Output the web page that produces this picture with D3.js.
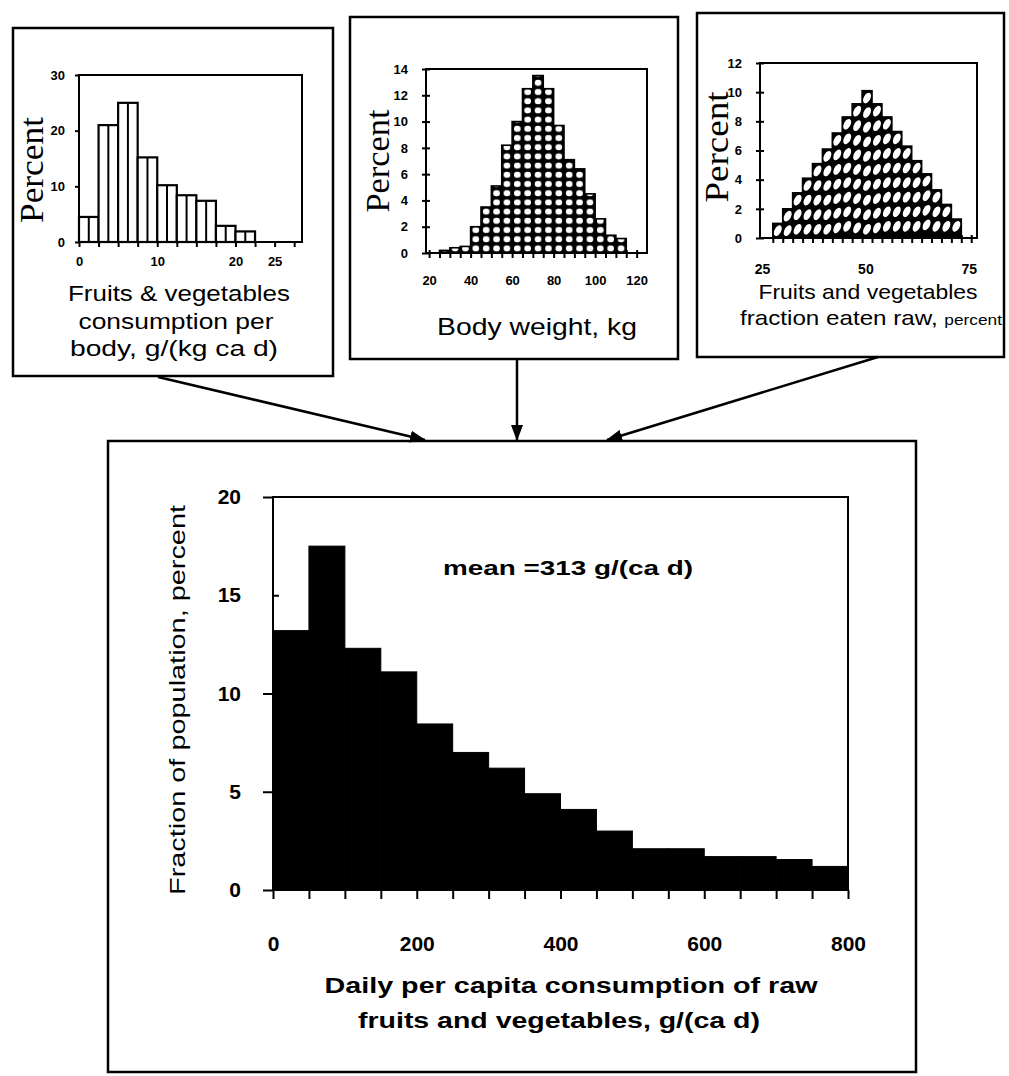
<!DOCTYPE html>
<html lang="en">
<head>
<meta charset="UTF-8">
<script src="https://d3js.org/d3.v7.min.js"></script>
<title>Raw fruit and vegetable consumption</title>
<style>
  body { margin: 0; background: #fff; }
  svg { display: block; }
</style>
</head>
<body>
<div id="chart"></div>
<script>
const width = 1009, height = 1076;
const SANS = "'Liberation Sans', Arial, sans-serif";
const SERIF = "'Liberation Serif', 'Times New Roman', serif";

// Fruits & vegetables consumption per body weight, g/(kg ca d)
const fvBins = [0, 2.5, 5, 7.5, 10, 12.5, 15, 17.5, 20];
const fvBinWidth = 2.5;
const fvPct = [4.5, 21.0, 25.0, 15.2, 10.2, 8.4, 7.4, 2.9, 1.9];
const fvXTicks = [0, 10, 20, 25];
const fvYTicks = [0, 10, 20, 30];

// Body weight, kg
const bwBins = [25, 30, 35, 40, 45, 50, 55, 60, 65, 70, 75, 80, 85, 90, 95, 100, 105, 110];
const bwBinWidth = 5;
const bwPct = [0.2, 0.4, 0.5, 2.0, 3.5, 5.1, 8.2, 10.0, 12.5, 13.5, 12.5, 9.7, 7.1, 6.4, 4.5, 2.6, 1.35, 1.1];
const bwXTicks = [20, 40, 60, 80, 100, 120];
const bwYTicks = [0, 2, 4, 6, 8, 10, 12, 14];

// Fruits and vegetables fraction eaten raw, percent
const rawBins = [27.6, 30, 32.4, 34.8, 37.2, 39.6, 42, 44.4, 46.8, 49.2, 51.6, 54, 56.4, 58.8, 61.2, 63.6, 66, 68.4, 70.8];
const rawBinWidth = 2.4;
const rawPct = [1.0, 2.0, 3.1, 4.1, 5.1, 6.1, 7.2, 8.3, 9.2, 10.1, 9.2, 8.3, 7.3, 6.3, 5.3, 4.4, 3.3, 2.3, 1.3];
const rawXTicks = [25, 50, 75];
const rawYTicks = [0, 2, 4, 6, 8, 10, 12];

// Daily per capita consumption of raw fruits and vegetables, g/(ca d)
const dailyBins = [0, 50, 100, 150, 200, 250, 300, 350, 400, 450, 500, 550, 600, 650, 700, 750];
const dailyBinWidth = 50;
const dailyPct = [13.2, 17.5, 12.3, 11.1, 8.45, 7.0, 6.2, 4.9, 4.1, 3.0, 2.1, 2.1, 1.7, 1.7, 1.55, 1.2];
const dailyXTicks = [0, 200, 400, 600, 800];
const dailyYTicks = [0, 5, 10, 15, 20];
const meanLabel = "mean =313 g/(ca d)";

const svg = d3.select("#chart").append("svg")
  .attr("width", width)
  .attr("height", height);

const defs = svg.append("defs");

// arrowhead
defs.append("marker")
  .attr("id", "arrow")
  .attr("viewBox", "0 0 16 12")
  .attr("refX", 15).attr("refY", 6)
  .attr("markerWidth", 16).attr("markerHeight", 12)
  .attr("markerUnits", "userSpaceOnUse")
  .attr("orient", "auto")
  .append("path").attr("d", "M0,0L16,6L0,12Z").attr("fill", "#000");

// outer boxes
const boxes = [[13, 28, 333, 376], [350, 17, 678, 359], [697, 13, 1004, 357], [108, 441, 916, 1072]];
svg.selectAll("rect.box").data(boxes).enter().append("rect")
  .attr("class", "box")
  .attr("x", d => d[0]).attr("y", d => d[1])
  .attr("width", d => d[2] - d[0]).attr("height", d => d[3] - d[1])
  .attr("fill", "none").attr("stroke", "#000").attr("stroke-width", 2.5);

// arrows
const arrows = [[158, 377, 425, 440], [517, 360, 517, 440], [878, 357, 607, 440]];
svg.selectAll("line.arrow").data(arrows).enter().append("line")
  .attr("x1", d => d[0]).attr("y1", d => d[1]).attr("x2", d => d[2]).attr("y2", d => d[3])
  .attr("stroke", "#000").attr("stroke-width", 2.5)
  .attr("marker-end", "url(#arrow)");

function panel(p) {
  const x = d3.scaleLinear().domain(p.xDomain).range([p.left, p.right]);
  const y = d3.scaleLinear().domain(p.yDomain).range([p.bottom, p.top]);
  const g = svg.append("g");
  return { x, y, g, p };
}

function frame(P) {
  const p = P.p;
  P.g.append("rect")
    .attr("x", p.left).attr("y", p.top)
    .attr("width", p.right - p.left).attr("height", p.bottom - p.top)
    .attr("fill", "none").attr("stroke", "#000").attr("stroke-width", 2);
}

function styleAxis(g, size) {
  g.attr("font-family", SANS).attr("font-size", size).attr("font-weight", "bold");
  g.select(".domain").remove();
  g.selectAll(".tick line").attr("stroke", "#000").attr("stroke-width", 2);
  g.selectAll(".tick text").attr("fill", "#000");
}

function label(text, x, y, size, opts = {}) {
  const t = svg.append("text")
    .attr("x", x).attr("y", y)
    .attr("font-family", opts.family || SANS)
    .attr("font-size", size)
    .attr("font-weight", opts.weight || "normal")
    .attr("text-anchor", opts.anchor || "middle")
    .text(text);
  if (opts.len) t.attr("textLength", opts.len).attr("lengthAdjust", "spacingAndGlyphs");
  if (opts.rotate) t.attr("transform", `rotate(-90, ${x}, ${y})`);
  return t;
}

// ---------- top left: consumption per body weight ----------
const fv = panel({ left: 79, right: 302, top: 75, bottom: 242, xDomain: [0, 28.5], yDomain: [0, 30] });
const fvData = fvBins.map((b, i) => ({ b, v: fvPct[i] }));
fv.g.selectAll("rect.bar").data(fvData).enter().append("rect")
  .attr("x", d => fv.x(d.b)).attr("y", d => fv.y(d.v))
  .attr("width", fv.x(fvBinWidth) - fv.x(0)).attr("height", d => fv.y(0) - fv.y(d.v))
  .attr("fill", "#fff").attr("stroke", "#000").attr("stroke-width", 2.2);
fv.g.selectAll("line.mid").data(fvData).enter().append("line")
  .attr("x1", d => fv.x(d.b + fvBinWidth / 2)).attr("x2", d => fv.x(d.b + fvBinWidth / 2))
  .attr("y1", d => fv.y(d.v)).attr("y2", fv.y(0))
  .attr("stroke", "#000").attr("stroke-width", 2);
frame(fv);
fv.g.append("g").attr("transform", `translate(${fv.p.left},0)`)
  .call(d3.axisLeft(fv.y).tickValues(fvYTicks).tickSize(4).tickPadding(10))
  .call(g => styleAxis(g, 13));
fv.g.append("g").attr("transform", `translate(0,${fv.p.bottom})`)
  .call(d3.axisBottom(fv.x).tickValues(fvBins.concat([22.5, 25, 27.5])).tickFormat("").tickSize(5))
  .call(g => styleAxis(g, 13));
fv.g.append("g").attr("transform", `translate(0,${fv.p.bottom})`)
  .call(d3.axisBottom(fv.x).tickValues(fvXTicks).tickSize(0).tickPadding(15))
  .call(g => styleAxis(g, 13));
label("Percent", 43, 170, 34, { family: SERIF, rotate: true, len: 106 });
label("Fruits & vegetables", 179, 301, 22, { len: 222 });
label("consumption per", 176, 329, 22, { len: 195 });
label("body, g/(kg ca d)", 174, 356, 22, { len: 208 });

// ---------- top middle: body weight ----------
const bw = panel({ left: 426, right: 647, top: 69, bottom: 253, xDomain: [18.5, 125], yDomain: [0, 14] });
const cellW = bw.x(bwBinWidth) - bw.x(0);
const dots = defs.append("pattern")
  .attr("id", "dots")
  .attr("patternUnits", "userSpaceOnUse")
  .attr("x", bw.x(bwBins[0])).attr("y", bw.y(0))
  .attr("width", cellW).attr("height", 9.2);
dots.append("rect").attr("width", cellW).attr("height", 9.2).attr("fill", "#000");
dots.append("rect").attr("x", cellW / 2 - 3.3).attr("y", 1.6).attr("width", 6.6).attr("height", 6)
  .attr("rx", 2.8).attr("fill", "#fff");
const bwData = bwBins.map((b, i) => ({ b, v: bwPct[i] }));
bw.g.selectAll("rect.bar").data(bwData).enter().append("rect")
  .attr("x", d => bw.x(d.b)).attr("y", d => bw.y(d.v))
  .attr("width", cellW).attr("height", d => bw.y(0) - bw.y(d.v))
  .attr("fill", "url(#dots)").attr("stroke", "#000").attr("stroke-width", 1.6);
frame(bw);
bw.g.append("g").attr("transform", `translate(${bw.p.left},0)`)
  .call(d3.axisLeft(bw.y).tickValues(bwYTicks).tickSize(4).tickPadding(14))
  .call(g => styleAxis(g, 13))
  .call(g => g.selectAll(".tick line").attr("x2", 4).attr("x1", -4));
bw.g.append("g").attr("transform", `translate(0,${bw.p.bottom})`)
  .call(d3.axisBottom(bw.x).tickValues(d3.range(20, 125, 5)).tickFormat("").tickSize(5))
  .call(g => styleAxis(g, 13))
  .call(g => g.selectAll(".tick line").attr("y1", -3));
bw.g.append("g").attr("transform", `translate(0,${bw.p.bottom})`)
  .call(d3.axisBottom(bw.x).tickValues(bwXTicks).tickSize(0).tickPadding(23))
  .call(g => styleAxis(g, 13));
label("Percent", 389, 161, 34, { family: SERIF, rotate: true, len: 103 });
label("Body weight, kg", 537, 335, 24, { len: 200 });

// ---------- top right: fraction eaten raw ----------
const raw = panel({ left: 760, right: 977, top: 63, bottom: 238, xDomain: [24.5, 77], yDomain: [0, 12] });
const rawW = raw.x(rawBinWidth) - raw.x(0);
const rawData = rawBins.map((b, i) => ({ b, v: rawPct[i] }));
raw.g.selectAll("rect.bar").data(rawData).enter().append("rect")
  .attr("x", d => raw.x(d.b)).attr("y", d => raw.y(d.v))
  .attr("width", rawW).attr("height", d => raw.y(0) - raw.y(d.v))
  .attr("fill", "#000").attr("stroke", "#000").attr("stroke-width", 1.6);
// one slanted white cell per percent, stacked down from the bar top
const rawCells = [];
rawData.forEach(d => {
  for (let k = 0; d.v - k - 0.5 > 0.2; k++) rawCells.push({ b: d.b, c: d.v - k - 0.5 });
});
raw.g.selectAll("ellipse.cell").data(rawCells).enter().append("ellipse")
  .attr("cx", d => raw.x(d.b + rawBinWidth / 2)).attr("cy", d => raw.y(d.c))
  .attr("rx", 3.3).attr("ry", 5.8)
  .attr("transform", d => `rotate(28, ${raw.x(d.b + rawBinWidth / 2)}, ${raw.y(d.c)})`)
  .attr("fill", "#fff");
frame(raw);
raw.g.append("g").attr("transform", `translate(${raw.p.left},0)`)
  .call(d3.axisLeft(raw.y).tickValues(rawYTicks).tickSize(4).tickPadding(14))
  .call(g => styleAxis(g, 13))
  .call(g => g.selectAll(".tick line").attr("x2", 4).attr("x1", -4));
raw.g.append("g").attr("transform", `translate(0,${raw.p.bottom})`)
  .call(d3.axisBottom(raw.x).tickValues(rawBins.concat([73.2, 75.6])).tickFormat("").tickSize(5))
  .call(g => styleAxis(g, 13))
  .call(g => g.selectAll(".tick line").attr("y1", -3));
raw.g.append("g").attr("transform", `translate(0,${raw.p.bottom})`)
  .call(d3.axisBottom(raw.x).tickValues(rawXTicks).tickSize(0).tickPadding(26))
  .call(g => styleAxis(g, 14));
label("Percent", 728, 147, 34, { family: SERIF, rotate: true, len: 111 });
label("Fruits and vegetables", 868, 299, 21, { len: 219 });
const rawT = svg.append("text").attr("x", 740).attr("y", 325)
  .attr("font-family", SANS).attr("font-size", 21)
  .attr("textLength", 262).attr("lengthAdjust", "spacingAndGlyphs");
rawT.append("tspan").text("fraction eaten raw, ");
rawT.append("tspan").attr("font-size", 15).text("percent");

// ---------- bottom: daily consumption ----------
const dy = panel({ left: 273, right: 848, top: 497, bottom: 890, xDomain: [0, 800], yDomain: [0, 20] });
const dailyData = dailyBins.map((b, i) => ({ b, v: dailyPct[i] }));
dy.g.selectAll("rect.bar").data(dailyData).enter().append("rect")
  .attr("x", d => dy.x(d.b)).attr("y", d => dy.y(d.v))
  .attr("width", dy.x(dailyBinWidth) - dy.x(0)).attr("height", d => dy.y(0) - dy.y(d.v))
  .attr("fill", "#000").attr("stroke", "#000").attr("stroke-width", 1);
frame(dy);
dy.g.append("g").attr("transform", `translate(${dy.p.left},0)`)
  .call(d3.axisLeft(dy.y).tickValues(dailyYTicks).tickSize(10).tickPadding(22))
  .call(g => styleAxis(g, 21))
  .call(g => g.selectAll(".tick").filter(d => d === 15).select("line").attr("x2", 6));
dy.g.append("g").attr("transform", `translate(0,${dy.p.bottom})`)
  .call(d3.axisBottom(dy.x).tickValues(d3.range(0, 801, 50)).tickFormat("").tickSize(9))
  .call(g => styleAxis(g, 20));
dy.g.append("g").attr("transform", `translate(0,${dy.p.bottom})`)
  .call(d3.axisBottom(dy.x).tickValues(dailyXTicks).tickSize(0).tickPadding(46))
  .call(g => styleAxis(g, 21));
label(meanLabel, 443, 575, 21, { weight: "bold", anchor: "start", len: 250 });
label("Fraction of population, percent", 185, 700, 22, { rotate: true, len: 390 });
label("Daily per capita consumption of raw", 571, 993, 22, { weight: "bold", len: 493 });
label("fruits and vegetables, g/(ca d)", 559, 1028, 22, { weight: "bold", len: 402 });
</script>
</body>
</html>
